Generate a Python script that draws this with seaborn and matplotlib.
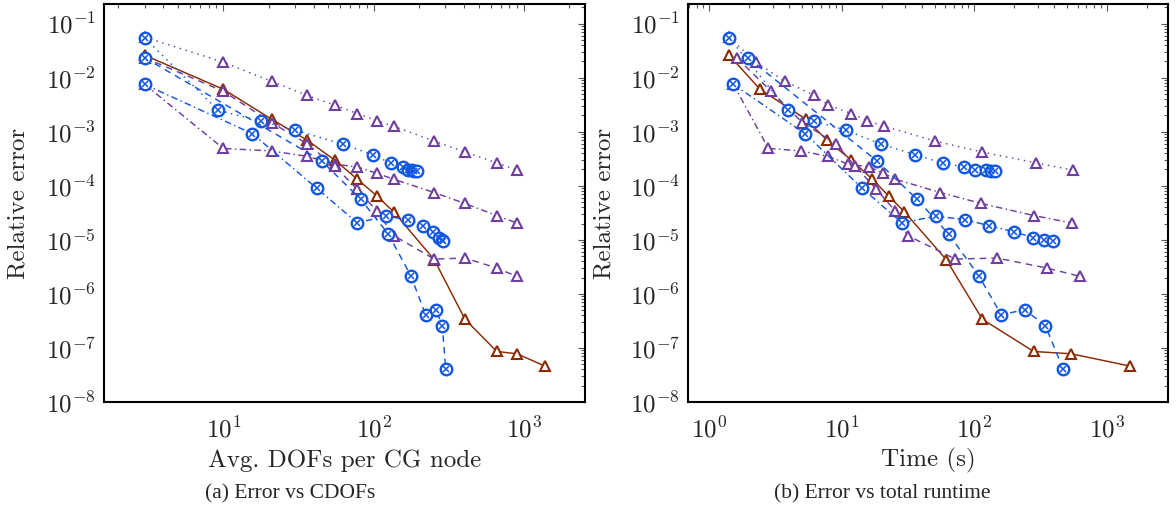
import numpy as np
import matplotlib
matplotlib.use("Agg")
import matplotlib.pyplot as plt
import seaborn as sns
from matplotlib import ticker

# ---------------- data ----------------
# (a) x: average DOFs per CG node
cdofs_tri = [3, 10, 21, 36, 55, 78, 105, 136, 253, 405, 660, 900, 1380]
cdofs_tri12 = [3, 10, 21, 36, 55, 78, 105, 136, 253, 405, 660, 900]
cdofs_circ_dotted = [3, 9.26, 17.8, 30, 62.2, 98.6, 130.6, 156.3, 170, 180, 187, 193]
cdofs_circ_dashed = [3, 45.2, 82.1, 125.3, 176.5, 222, 260, 286.4, 301.8]
cdofs_circ_dashdot = [3, 15.6, 41.8, 77.9, 120.9, 168.6, 214, 249.6, 272, 284, 291]

# (b) x: total runtime (s)
time_tri_solid = [1.41, 2.41, 5.35, 7.70, 11.75, 17.0, 22.5, 29.6, 61.3, 114.8, 280, 537, 1506]
time_tri_dotted = [1.41, 2.24, 3.73, 6.18, 7.92, 11.76, 15.6, 20.9, 50.6, 114, 291.7, 555]
time_tri_dashdot = [1.52, 2.79, 4.93, 7.84, 11.2, 16.1, 20.6, 25.3, 55.2, 112.8, 283, 546]
time_tri_dashed = [1.61, 2.92, 5.04, 9.01, 12.6, 18.2, 25.3, 31.3, 71.8, 148, 353, 631]
time_circ_dotted = [1.41, 3.91, 6.21, 10.7, 19.7, 35.8, 57.9, 83.9, 101.6, 122.4, 134.4, 143.9]
time_circ_dashed = [1.95, 18.4, 36.9, 63.9, 107.7, 159.6, 239, 343, 467]
time_circ_dashdot = [1.52, 5.28, 14.2, 28.4, 51.5, 85.3, 130, 197.8, 277, 335.7, 392]

# relative errors (shared by both panels)
err_tri_solid = [0.026, 6.1e-3, 1.7e-3, 7.0e-4, 3.0e-4, 1.32e-4, 6.5e-5, 3.3e-5,
                 4.3e-6, 3.4e-7, 8.6e-8, 7.8e-8, 4.6e-8]
err_tri_dotted = [0.056, 0.0193, 0.0085, 0.0047, 0.0031, 0.00216, 0.0016, 0.00126,
                  6.7e-4, 4.2e-4, 2.65e-4, 1.94e-4]
err_tri_dashdot = [0.0075, 4.9e-4, 4.4e-4, 3.5e-4, 2.5e-4, 2.23e-4, 1.7e-4, 1.32e-4,
                   7.5e-5, 4.7e-5, 2.8e-5, 2.04e-5]
err_tri_dashed = [0.0233, 5.6e-3, 1.47e-3, 6.0e-4, 2.3e-4, 8.6e-5, 3.4e-5, 1.2e-5,
                  4.4e-6, 4.6e-6, 3.0e-6, 2.1e-6]
err_circ_dotted = [0.0545, 2.48e-3, 1.57e-3, 1.07e-3, 5.9e-4, 3.75e-4, 2.6e-4, 2.23e-4,
                   1.96e-4, 1.92e-4, 1.9e-4, 1.9e-4]
err_circ_dashed = [0.0233, 2.88e-4, 5.6e-5, 1.28e-5, 2.18e-6, 4.1e-7, 5.1e-7, 2.6e-7, 4.1e-8]
err_circ_dashdot = [0.0075, 9.2e-4, 9.0e-5, 2.06e-5, 2.75e-5, 2.35e-5, 1.82e-5, 1.41e-5,
                    1.1e-5, 1.0e-5, 9.6e-6]

xlabels = ["Avg. DOFs per CG node", "Time (s)"]
ylabel = "Relative error"
captions = ["(a) Error vs CDOFs", "(b) Error vs total runtime"]

# ---------------- style ----------------
sns.set_style("white")
plt.rcParams["mathtext.fontset"] = "cm"
plt.rcParams["font.family"] = ["DejaVu Sans"]

BROWN = "#8c2a02"
PURPLE = "#6f3f9f"
BLUE = "#1157df"

DOT = (0, (1, 3.2))
DASH = (0, (4.5, 3.5))
DASHDOT = (0, (4.5, 2.3, 1, 2.3))
LW = 1.05
TICK_FS = 18
LABEL_FS = 18
CAP_FS = 15.5


def tri_series(ax, x, y, color, ls):
    sns.lineplot(x=x, y=y, ax=ax, sort=False, estimator=None, color=color,
                 linewidth=LW, linestyle=ls, marker="^", markersize=6.8,
                 markerfacecolor="white", markeredgecolor=color,
                 markeredgewidth=1.5)


def circ_series(ax, x, y, ls):
    sns.lineplot(x=x, y=y, ax=ax, sort=False, estimator=None, color=BLUE,
                 linewidth=LW, linestyle=ls, marker="o", markersize=8.3,
                 markerfacecolor="white", markeredgecolor=BLUE,
                 markeredgewidth=1.7)
    sns.lineplot(x=x, y=y, ax=ax, sort=False, estimator=None, color=BLUE,
                 linewidth=0, marker="x", markersize=4.6,
                 markeredgecolor=BLUE, markeredgewidth=1.1)


def fmt(v, _):
    e = int(round(np.log10(v)))
    return r"$10^{%d}$" % e


def style_axes(ax, xlim, xlabel):
    ax.set_xscale("log")
    ax.set_yscale("log")
    ax.set_xlim(*xlim)
    ax.set_ylim(1e-8, 0.23)
    for a in (ax.xaxis, ax.yaxis):
        a.set_major_locator(ticker.LogLocator(base=10, numticks=30))
        a.set_minor_locator(ticker.LogLocator(base=10, subs=np.arange(2, 10), numticks=30))
        a.set_major_formatter(ticker.FuncFormatter(fmt))
        a.set_minor_formatter(ticker.NullFormatter())
    ax.tick_params(which="both", direction="in", top=True, right=True,
                   color="#555555", width=0.8)
    ax.tick_params(which="major", length=5, labelsize=TICK_FS)
    ax.tick_params(axis="x", which="major", pad=10.5)
    ax.tick_params(axis="y", which="major", pad=6)
    ax.tick_params(which="minor", length=3)
    for s in ax.spines.values():
        s.set_linewidth(1.5)
        s.set_color("black")
    ax.set_xlabel(xlabel, family="cmr10", fontsize=LABEL_FS, va="center")
    ax.set_ylabel(ylabel, family="cmr10", fontsize=LABEL_FS, va="center")
    ax.xaxis.set_label_coords(0.5, -0.148)


fig = plt.figure(figsize=(11.76, 5.21), dpi=100)
bottom = 1 - 402 / 521
height = 398 / 521
ax1 = fig.add_axes([104 / 1176, bottom, 481 / 1176, height])
ax2 = fig.add_axes([688 / 1176, bottom, 480 / 1176, height])

# panel (a)
tri_series(ax1, cdofs_tri, err_tri_solid, BROWN, "-")
tri_series(ax1, cdofs_tri12, err_tri_dotted, PURPLE, DOT)
tri_series(ax1, cdofs_tri12, err_tri_dashdot, PURPLE, DASHDOT)
tri_series(ax1, cdofs_tri12, err_tri_dashed, PURPLE, DASH)
circ_series(ax1, cdofs_circ_dotted, err_circ_dotted, DOT)
circ_series(ax1, cdofs_circ_dashed, err_circ_dashed, DASH)
circ_series(ax1, cdofs_circ_dashdot, err_circ_dashdot, DASHDOT)

# panel (b)
tri_series(ax2, time_tri_solid, err_tri_solid, BROWN, "-")
tri_series(ax2, time_tri_dotted, err_tri_dotted, PURPLE, DOT)
tri_series(ax2, time_tri_dashdot, err_tri_dashdot, PURPLE, DASHDOT)
tri_series(ax2, time_tri_dashed, err_tri_dashed, PURPLE, DASH)
circ_series(ax2, time_circ_dotted, err_circ_dotted, DOT)
circ_series(ax2, time_circ_dashed, err_circ_dashed, DASH)
circ_series(ax2, time_circ_dashdot, err_circ_dashdot, DASHDOT)

style_axes(ax1, (1.61, 2547), xlabels[0])
style_axes(ax2, (0.69, 2890), xlabels[1])
ax1.yaxis.set_label_coords((18 - 104) / 481, 0.5)
ax2.yaxis.set_label_coords((604 - 688) / 480, 0.5)

fig.text(290 / 1176, 1 - 494 / 521, captions[0], family="Liberation Serif",
         fontsize=CAP_FS, ha="center", va="center")
fig.text(882 / 1176, 1 - 494 / 521, captions[1], family="Liberation Serif",
         fontsize=CAP_FS, ha="center", va="center")

fig.savefig("out.png", dpi=100)
